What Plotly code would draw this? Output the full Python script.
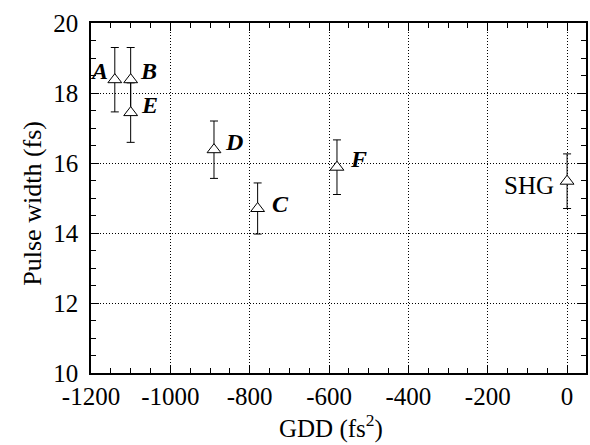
import plotly.graph_objects as go

# Data
gdd = [-1140, -1100, -780, -890, -1100, -580, 0]          # fs^2
pulse_width = [18.38, 18.38, 14.70, 16.38, 17.44, 15.88, 15.48]  # fs
pulse_err = [0.92, 0.92, 0.73, 0.82, 0.85, 0.78, 0.78]
labels = ["A", "B", "C", "D", "E", "F", "SHG"]

x_ticks = [-1200, -1000, -800, -600, -400, -200, 0]
y_ticks = [10, 12, 14, 16, 18, 20]

# label placement (pixel offsets from each point): (xanchor, xshift, yshift, bold-italic)
label_style = {
    "A": ("right", -5, 9, True),
    "B": ("left", 7, 9, True),
    "C": ("left", 12, 5, True),
    "D": ("left", 9, 8, True),
    "E": ("left", 8, 8, True),
    "F": ("left", 11, 8, True),
    "SHG": ("right", -11, -4, False),
}

FONT = "Liberation Serif, Times New Roman, serif"

fig = go.Figure()
fig.add_trace(go.Scatter(
    x=gdd, y=pulse_width, mode="markers",
    marker=dict(symbol="triangle-up", size=12, color="white",
                line=dict(color="black", width=1)),
    error_y=dict(type="data", array=pulse_err, visible=True,
                 color="black", thickness=1, width=4),
    showlegend=False, hoverinfo="skip",
))

for xv, yv, lab in zip(gdd, pulse_width, labels):
    anchor, xs, ys, bi = label_style[lab]
    txt = f"<b><i>{lab}</i></b>" if bi else lab
    fig.add_annotation(
        x=xv, y=yv, text=txt, showarrow=False,
        xanchor=anchor, yanchor="middle", xshift=xs, yshift=ys,
        font=dict(family=FONT, size=24 if bi else 25, color="black"),
    )

# axis titles
fig.add_annotation(
    xref="paper", yref="paper", x=0.484, y=-0.152,
    text="GDD (fs<sup>2</sup>)", showarrow=False,
    xanchor="center", yanchor="middle",
    font=dict(family=FONT, size=25, color="black"),
)
fig.add_annotation(
    xref="paper", yref="paper", x=-0.117, y=0.484,
    text="Pulse width (fs)", showarrow=False, textangle=-90,
    xanchor="center", yanchor="middle",
    font=dict(family=FONT, size=26, color="black"),
)

axis_common = dict(
    showline=True, linecolor="black", linewidth=1.5, mirror="ticks",
    ticks="inside", ticklen=8, tickwidth=1, tickcolor="black",
    showgrid=True, gridcolor="black", gridwidth=1, griddash="1px,2px",
    zeroline=False,
    tickfont=dict(family=FONT, size=25, color="black"),
)

fig.update_xaxes(
    **axis_common, range=[-1200, 47.7], tickvals=x_ticks,
    ticktext=[str(v) for v in x_ticks],
    minor=dict(dtick=50, ticks="inside", ticklen=5, tickwidth=1,
               tickcolor="black", showgrid=False),
)
fig.update_yaxes(
    **axis_common, range=[10, 20], tickvals=y_ticks,
    ticklabelstandoff=6,
    minor=dict(dtick=0.5, ticks="inside", ticklen=5, tickwidth=1,
               tickcolor="black", showgrid=False),
)

fig.update_layout(
    width=590, height=445,
    margin=dict(l=91, r=2, t=23, b=72),
    plot_bgcolor="white", paper_bgcolor="white",
    font=dict(family=FONT, color="black"),
)

fig.write_html("out.html")
